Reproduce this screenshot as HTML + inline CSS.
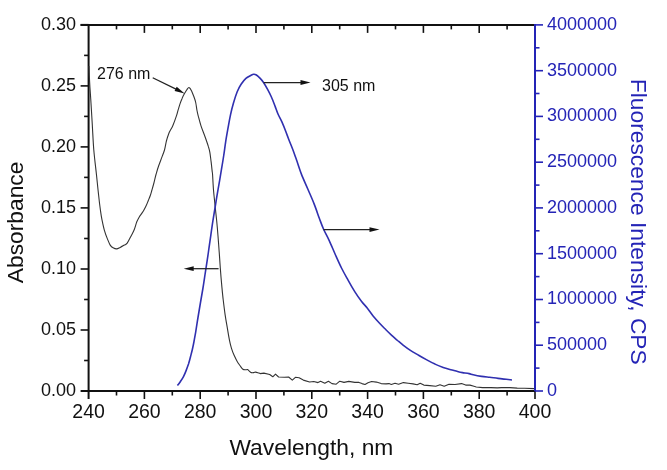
<!DOCTYPE html><html><head><meta charset="utf-8"><title>Absorbance and Fluorescence</title><style>html,body{margin:0;padding:0;background:#fff;}svg{display:block;will-change:transform;}text{font-family:'Liberation Sans', Arial, Helvetica, sans-serif;}</style></head><body>
<svg width="667" height="470" viewBox="0 0 667 470">
<rect width="667" height="470" fill="#fff"/>
<line x1="87.6" y1="391.0" x2="535.0" y2="391.0" stroke="#111" stroke-width="2.0"/>
<line x1="80.6" y1="24.9" x2="535.0" y2="24.9" stroke="#111" stroke-width="2.0"/>
<line x1="88.6" y1="23.9" x2="88.6" y2="399.0" stroke="#111" stroke-width="2.0"/>
<line x1="535.0" y1="23.9" x2="535.0" y2="392.0" stroke="#2424b6" stroke-width="2.0"/>
<line x1="116.5" y1="391.0" x2="116.5" y2="395.5" stroke="#111" stroke-width="1.6"/>
<line x1="116.5" y1="24.9" x2="116.5" y2="29.4" stroke="#111" stroke-width="1.6"/>
<line x1="144.4" y1="391.0" x2="144.4" y2="399.0" stroke="#111" stroke-width="1.6"/>
<line x1="144.4" y1="24.9" x2="144.4" y2="32.9" stroke="#111" stroke-width="1.6"/>
<line x1="172.3" y1="391.0" x2="172.3" y2="395.5" stroke="#111" stroke-width="1.6"/>
<line x1="172.3" y1="24.9" x2="172.3" y2="29.4" stroke="#111" stroke-width="1.6"/>
<line x1="200.2" y1="391.0" x2="200.2" y2="399.0" stroke="#111" stroke-width="1.6"/>
<line x1="200.2" y1="24.9" x2="200.2" y2="32.9" stroke="#111" stroke-width="1.6"/>
<line x1="228.1" y1="391.0" x2="228.1" y2="395.5" stroke="#111" stroke-width="1.6"/>
<line x1="228.1" y1="24.9" x2="228.1" y2="29.4" stroke="#111" stroke-width="1.6"/>
<line x1="256.0" y1="391.0" x2="256.0" y2="399.0" stroke="#111" stroke-width="1.6"/>
<line x1="256.0" y1="24.9" x2="256.0" y2="32.9" stroke="#111" stroke-width="1.6"/>
<line x1="283.9" y1="391.0" x2="283.9" y2="395.5" stroke="#111" stroke-width="1.6"/>
<line x1="283.9" y1="24.9" x2="283.9" y2="29.4" stroke="#111" stroke-width="1.6"/>
<line x1="311.8" y1="391.0" x2="311.8" y2="399.0" stroke="#111" stroke-width="1.6"/>
<line x1="311.8" y1="24.9" x2="311.8" y2="32.9" stroke="#111" stroke-width="1.6"/>
<line x1="339.7" y1="391.0" x2="339.7" y2="395.5" stroke="#111" stroke-width="1.6"/>
<line x1="339.7" y1="24.9" x2="339.7" y2="29.4" stroke="#111" stroke-width="1.6"/>
<line x1="367.6" y1="391.0" x2="367.6" y2="399.0" stroke="#111" stroke-width="1.6"/>
<line x1="367.6" y1="24.9" x2="367.6" y2="32.9" stroke="#111" stroke-width="1.6"/>
<line x1="395.5" y1="391.0" x2="395.5" y2="395.5" stroke="#111" stroke-width="1.6"/>
<line x1="395.5" y1="24.9" x2="395.5" y2="29.4" stroke="#111" stroke-width="1.6"/>
<line x1="423.4" y1="391.0" x2="423.4" y2="399.0" stroke="#111" stroke-width="1.6"/>
<line x1="423.4" y1="24.9" x2="423.4" y2="32.9" stroke="#111" stroke-width="1.6"/>
<line x1="451.3" y1="391.0" x2="451.3" y2="395.5" stroke="#111" stroke-width="1.6"/>
<line x1="451.3" y1="24.9" x2="451.3" y2="29.4" stroke="#111" stroke-width="1.6"/>
<line x1="479.2" y1="391.0" x2="479.2" y2="399.0" stroke="#111" stroke-width="1.6"/>
<line x1="479.2" y1="24.9" x2="479.2" y2="32.9" stroke="#111" stroke-width="1.6"/>
<line x1="507.1" y1="391.0" x2="507.1" y2="395.5" stroke="#111" stroke-width="1.6"/>
<line x1="507.1" y1="24.9" x2="507.1" y2="29.4" stroke="#111" stroke-width="1.6"/>
<line x1="535.0" y1="391.0" x2="535.0" y2="399.0" stroke="#111" stroke-width="1.6"/>
<line x1="80.6" y1="391.0" x2="88.6" y2="391.0" stroke="#111" stroke-width="2.0"/>
<line x1="84.1" y1="360.5" x2="88.6" y2="360.5" stroke="#111" stroke-width="1.6"/>
<line x1="80.6" y1="330.0" x2="88.6" y2="330.0" stroke="#111" stroke-width="1.6"/>
<line x1="84.1" y1="299.5" x2="88.6" y2="299.5" stroke="#111" stroke-width="1.6"/>
<line x1="80.6" y1="269.0" x2="88.6" y2="269.0" stroke="#111" stroke-width="1.6"/>
<line x1="84.1" y1="238.5" x2="88.6" y2="238.5" stroke="#111" stroke-width="1.6"/>
<line x1="80.6" y1="207.9" x2="88.6" y2="207.9" stroke="#111" stroke-width="1.6"/>
<line x1="84.1" y1="177.4" x2="88.6" y2="177.4" stroke="#111" stroke-width="1.6"/>
<line x1="80.6" y1="146.9" x2="88.6" y2="146.9" stroke="#111" stroke-width="1.6"/>
<line x1="84.1" y1="116.4" x2="88.6" y2="116.4" stroke="#111" stroke-width="1.6"/>
<line x1="80.6" y1="85.9" x2="88.6" y2="85.9" stroke="#111" stroke-width="1.6"/>
<line x1="84.1" y1="55.4" x2="88.6" y2="55.4" stroke="#111" stroke-width="1.6"/>
<line x1="80.6" y1="24.9" x2="88.6" y2="24.9" stroke="#111" stroke-width="2.0"/>
<line x1="535.0" y1="391.0" x2="543.0" y2="391.0" stroke="#2424b6" stroke-width="1.6"/>
<line x1="535.0" y1="368.1" x2="539.5" y2="368.1" stroke="#2424b6" stroke-width="1.6"/>
<line x1="535.0" y1="345.2" x2="543.0" y2="345.2" stroke="#2424b6" stroke-width="1.6"/>
<line x1="535.0" y1="322.4" x2="539.5" y2="322.4" stroke="#2424b6" stroke-width="1.6"/>
<line x1="535.0" y1="299.5" x2="543.0" y2="299.5" stroke="#2424b6" stroke-width="1.6"/>
<line x1="535.0" y1="276.6" x2="539.5" y2="276.6" stroke="#2424b6" stroke-width="1.6"/>
<line x1="535.0" y1="253.7" x2="543.0" y2="253.7" stroke="#2424b6" stroke-width="1.6"/>
<line x1="535.0" y1="230.8" x2="539.5" y2="230.8" stroke="#2424b6" stroke-width="1.6"/>
<line x1="535.0" y1="207.9" x2="543.0" y2="207.9" stroke="#2424b6" stroke-width="1.6"/>
<line x1="535.0" y1="185.1" x2="539.5" y2="185.1" stroke="#2424b6" stroke-width="1.6"/>
<line x1="535.0" y1="162.2" x2="543.0" y2="162.2" stroke="#2424b6" stroke-width="1.6"/>
<line x1="535.0" y1="139.3" x2="539.5" y2="139.3" stroke="#2424b6" stroke-width="1.6"/>
<line x1="535.0" y1="116.4" x2="543.0" y2="116.4" stroke="#2424b6" stroke-width="1.6"/>
<line x1="535.0" y1="93.5" x2="539.5" y2="93.5" stroke="#2424b6" stroke-width="1.6"/>
<line x1="535.0" y1="70.7" x2="543.0" y2="70.7" stroke="#2424b6" stroke-width="1.6"/>
<line x1="535.0" y1="47.8" x2="539.5" y2="47.8" stroke="#2424b6" stroke-width="1.6"/>
<line x1="535.0" y1="24.9" x2="543.0" y2="24.9" stroke="#2424b6" stroke-width="1.6"/>
<path d="M88.9,66.0 C89.0,67.7 89.1,72.5 89.3,76.0 C89.5,79.5 89.7,83.0 89.9,87.0 C90.2,91.0 90.4,93.7 90.8,100.0 C91.2,106.3 91.8,116.7 92.3,125.0 C92.8,133.3 93.1,141.7 93.8,150.0 C94.5,158.3 95.7,167.5 96.5,175.0 C97.3,182.5 97.9,189.2 98.6,195.0 C99.2,200.8 99.8,205.8 100.4,210.0 C101.0,214.2 101.3,216.5 102.0,219.9 C102.7,223.3 103.5,227.3 104.4,230.4 C105.3,233.5 106.3,236.2 107.3,238.6 C108.3,241.0 109.2,243.6 110.2,245.1 C111.2,246.6 112.0,247.2 113.1,247.8 C114.2,248.4 115.5,249.0 116.7,248.9 C117.9,248.8 118.9,248.0 120.2,247.4 C121.5,246.8 123.1,245.8 124.3,245.1 C125.5,244.4 126.1,244.6 127.2,243.1 C128.3,241.6 129.9,238.2 131.1,235.9 C132.3,233.6 133.4,231.8 134.3,229.5 C135.2,227.2 136.0,223.9 136.8,221.8 C137.7,219.7 138.6,218.1 139.4,216.7 C140.2,215.3 140.9,214.7 141.6,213.6 C142.3,212.5 143.1,211.6 143.8,210.3 C144.5,209.0 145.2,207.6 146.0,206.0 C146.8,204.4 147.6,202.2 148.3,200.5 C149.0,198.8 149.7,197.2 150.3,195.5 C150.9,193.8 151.2,192.6 151.8,190.5 C152.4,188.4 153.2,185.7 153.9,183.0 C154.6,180.3 155.2,177.3 156.0,174.5 C156.8,171.7 157.6,168.8 158.6,166.0 C159.6,163.2 160.8,160.1 161.8,157.4 C162.8,154.7 163.7,152.7 164.5,150.0 C165.3,147.3 165.7,143.8 166.4,141.0 C167.1,138.2 168.2,135.2 168.9,133.3 C169.6,131.4 170.2,130.8 170.8,129.5 C171.5,128.2 171.8,128.1 172.8,125.7 C173.8,123.4 175.7,118.1 176.6,115.4 C177.5,112.7 177.7,111.2 178.3,109.3 C178.9,107.4 179.4,105.7 180.0,103.9 C180.6,102.1 181.3,100.1 182.1,98.4 C182.8,96.7 183.7,95.0 184.5,93.6 C185.3,92.2 186.1,90.8 186.8,89.8 C187.6,88.8 188.2,87.3 189.0,87.5 C189.8,87.7 190.8,89.3 191.6,90.9 C192.4,92.5 193.3,95.1 194.0,97.0 C194.7,98.9 195.2,100.2 195.7,102.5 C196.2,104.8 196.6,108.3 197.0,110.5 C197.4,112.7 197.5,113.2 198.2,115.8 C198.9,118.4 199.8,122.2 201.0,125.9 C202.2,129.6 204.2,134.3 205.4,137.8 C206.6,141.3 207.7,144.2 208.4,146.7 C209.2,149.2 209.5,150.2 209.9,152.7 C210.3,155.2 210.7,158.6 211.1,161.6 C211.5,164.6 211.8,168.4 212.1,170.6 C212.3,172.8 212.4,171.8 212.6,175.0 C212.8,178.2 213.1,185.0 213.5,190.0 C213.9,195.0 214.5,199.8 215.0,205.0 C215.5,210.2 216.2,215.8 216.7,221.0 C217.2,226.2 217.6,230.8 218.0,236.0 C218.4,241.2 218.8,246.7 219.2,252.0 C219.6,257.3 219.9,262.5 220.3,268.0 C220.7,273.5 221.2,279.6 221.7,284.9 C222.2,290.2 222.6,294.8 223.2,299.8 C223.8,304.8 224.4,309.7 225.1,314.7 C225.8,319.7 226.9,325.3 227.6,329.6 C228.3,333.9 228.9,337.3 229.5,340.4 C230.1,343.5 230.7,345.7 231.4,348.1 C232.2,350.6 233.0,352.9 234.0,355.1 C235.0,357.3 236.1,359.7 237.2,361.5 C238.2,363.3 239.4,364.7 240.3,366.0 C241.2,367.3 242.0,368.6 242.9,369.2 C243.8,369.8 244.8,369.7 245.5,369.8 C246.2,369.9 246.8,369.4 247.4,369.6 C248.0,369.8 248.7,370.6 249.3,371.1 C249.9,371.6 250.4,372.4 251.2,372.6 C251.9,372.9 253.1,372.7 253.8,372.6 C254.6,372.5 254.8,372.0 255.7,372.1 C256.5,372.2 258.4,372.9 258.9,373.0 L258.9,373.0 L260.2,373.6 L263.9,373.1 L269.7,374.5 L272.8,376.8 L275.5,374.2 L278.6,377.0 L284.4,377.3 L288.6,377.0 L292.3,380.1 L295.4,377.3 L299.1,377.8 L303.3,380.1 L309.6,382.0 L313.8,381.5 L318.0,382.6 L320.6,381.3 L324.8,383.2 L328.4,381.2 L332.0,383.6 L336.2,384.2 L339.8,381.2 L344.0,382.4 L348.8,381.4 L354.8,382.4 L359.0,382.4 L362.0,383.6 L365.0,384.5 L368.0,382.7 L371.6,381.5 L376.4,382.1 L381.2,383.6 L386.0,383.9 L389.0,383.6 L391.3,384.4 L395.0,383.2 L398.6,384.2 L403.4,382.6 L408.2,383.2 L413.0,383.9 L417.2,384.8 L420.2,383.2 L423.8,385.1 L429.8,385.6 L435.8,386.3 L440.0,384.8 L444.2,386.3 L449.0,384.2 L455.0,384.5 L461.5,383.6 L465.7,385.1 L470.0,385.1 L473.1,386.0 L476.3,387.0 L482.6,387.6 L491.0,387.6 L497.3,387.9 L501.5,387.6 L509.9,387.6 L517.2,388.1 L524.6,388.3 L534.0,388.6" fill="none" stroke="#333" stroke-width="1.1" stroke-linejoin="round"/>
<path d="M177.4,385.6 C177.9,385.0 179.3,383.2 180.3,381.7 C181.3,380.2 182.6,378.4 183.5,376.6 C184.4,374.8 185.2,373.0 186.0,370.9 C186.8,368.8 187.8,366.1 188.6,363.8 C189.3,361.5 189.9,359.2 190.5,356.8 C191.1,354.4 191.8,351.8 192.4,349.2 C193.0,346.6 193.5,344.3 194.0,341.5 C194.5,338.7 194.9,336.5 195.6,332.6 C196.2,328.7 197.1,322.9 197.9,318.0 C198.7,313.1 199.6,307.9 200.4,303.0 C201.2,298.1 202.1,293.3 202.9,288.5 C203.7,283.7 204.4,278.7 205.1,274.0 C205.8,269.3 206.6,264.4 207.2,260.4 C207.8,256.4 208.2,253.7 208.7,250.0 C209.2,246.3 209.7,242.9 210.4,238.1 C211.1,233.2 212.0,226.7 212.9,220.9 C213.8,215.2 214.8,209.3 215.7,203.6 C216.6,197.8 217.6,192.1 218.6,186.4 C219.6,180.7 220.6,174.4 221.5,169.2 C222.4,164.0 223.1,159.6 223.8,155.0 C224.5,150.4 225.0,146.1 225.7,141.6 C226.4,137.1 227.2,132.7 228.0,128.2 C228.8,123.7 229.6,118.9 230.5,114.8 C231.4,110.7 232.3,107.1 233.4,103.3 C234.5,99.5 235.9,95.0 237.2,91.8 C238.5,88.6 239.6,86.4 241.1,84.2 C242.6,82.0 244.3,79.9 245.9,78.4 C247.5,77.0 249.4,76.2 250.7,75.5 C252.0,74.8 252.6,74.3 253.5,74.2 C254.4,74.1 255.3,74.3 256.4,75.0 C257.5,75.7 259.0,77.1 260.2,78.4 C261.4,79.7 262.5,80.9 263.7,82.7 C264.9,84.5 266.3,87.0 267.6,89.4 C268.9,91.8 270.1,94.1 271.4,97.0 C272.7,99.9 274.1,103.7 275.2,106.6 C276.3,109.5 277.0,111.8 278.1,114.3 C279.2,116.8 280.6,119.0 281.9,121.9 C283.2,124.8 284.7,128.6 285.8,131.5 C286.9,134.4 287.6,136.3 288.7,139.2 C289.8,142.1 291.2,145.5 292.5,148.8 C293.8,152.2 294.8,155.1 296.3,159.3 C297.8,163.5 299.5,169.2 301.4,174.1 C303.3,179.0 305.7,184.0 307.8,189.0 C309.9,194.0 312.2,198.9 314.1,203.9 C316.1,208.9 317.9,214.5 319.5,218.8 C321.1,223.1 322.1,225.9 323.7,229.5 C325.3,233.1 327.0,235.8 329.0,240.1 C331.0,244.3 333.4,250.3 335.5,255.0 C337.6,259.6 339.4,263.8 341.5,268.0 C343.6,272.2 346.0,276.4 348.2,280.4 C350.4,284.4 352.7,288.4 354.9,291.9 C357.1,295.4 359.5,298.8 361.6,301.5 C363.7,304.2 365.5,305.8 367.4,308.2 C369.3,310.6 371.0,313.3 373.1,315.9 C375.2,318.4 377.7,321.2 379.8,323.5 C381.9,325.8 383.9,327.7 385.9,329.7 C387.9,331.7 389.8,333.5 391.7,335.3 C393.6,337.1 395.7,338.8 397.6,340.5 C399.6,342.2 401.3,343.7 403.4,345.3 C405.5,346.9 407.9,348.7 410.4,350.3 C412.9,351.9 415.9,353.6 418.6,355.2 C421.3,356.8 424.1,358.4 426.8,359.9 C429.5,361.4 432.3,362.9 435.0,364.1 C437.7,365.4 440.7,366.5 443.2,367.4 C445.7,368.3 448.0,368.9 449.8,369.4 C451.6,369.9 452.6,370.1 454.0,370.5 C455.4,370.9 456.9,371.3 458.3,371.7 C459.7,372.1 460.7,372.3 462.5,372.6 C464.3,372.9 467.3,373.2 469.1,373.6 C470.9,374.0 471.1,374.3 473.2,374.8 C475.3,375.3 478.8,376.0 481.5,376.4 C484.2,376.8 486.9,377.0 489.7,377.3 C492.4,377.6 495.2,378.1 498.0,378.4 C500.8,378.7 503.9,379.0 506.2,379.3 C508.5,379.6 511.0,379.9 512.0,380.0" fill="none" stroke="#3030b0" stroke-width="1.6" stroke-linejoin="round"/>
<line x1="152.7" y1="77.7" x2="176.5" y2="89.4" stroke="#222" stroke-width="1.25"/><polygon points="184.6,93.4 174.6,91.1 176.7,86.8" fill="#111"/>
<line x1="263.6" y1="82.5" x2="301.5" y2="82.5" stroke="#222" stroke-width="1.25"/><polygon points="310.5,82.5 300.5,84.9 300.5,80.1" fill="#111"/>
<line x1="323.5" y1="229.6" x2="370.5" y2="229.6" stroke="#222" stroke-width="1.25"/><polygon points="379.5,229.6 369.5,232.0 369.5,227.2" fill="#111"/>
<line x1="218.6" y1="268.7" x2="192.7" y2="268.7" stroke="#222" stroke-width="1.25"/><polygon points="183.7,268.7 193.7,266.3 193.7,271.1" fill="#111"/>
<text x="76.0" y="395.8" font-size="18" text-anchor="end" fill="#111">0.00</text>
<text x="76.0" y="334.8" font-size="18" text-anchor="end" fill="#111">0.05</text>
<text x="76.0" y="273.8" font-size="18" text-anchor="end" fill="#111">0.10</text>
<text x="76.0" y="212.7" font-size="18" text-anchor="end" fill="#111">0.15</text>
<text x="76.0" y="151.7" font-size="18" text-anchor="end" fill="#111">0.20</text>
<text x="76.0" y="90.7" font-size="18" text-anchor="end" fill="#111">0.25</text>
<text x="76.0" y="29.7" font-size="18" text-anchor="end" fill="#111">0.30</text>
<text x="88.6" y="418.3" font-size="19.5" text-anchor="middle" fill="#111">240</text>
<text x="144.4" y="418.3" font-size="19.5" text-anchor="middle" fill="#111">260</text>
<text x="200.2" y="418.3" font-size="19.5" text-anchor="middle" fill="#111">280</text>
<text x="256.0" y="418.3" font-size="19.5" text-anchor="middle" fill="#111">300</text>
<text x="311.8" y="418.3" font-size="19.5" text-anchor="middle" fill="#111">320</text>
<text x="367.6" y="418.3" font-size="19.5" text-anchor="middle" fill="#111">340</text>
<text x="423.4" y="418.3" font-size="19.5" text-anchor="middle" fill="#111">360</text>
<text x="479.2" y="418.3" font-size="19.5" text-anchor="middle" fill="#111">380</text>
<text x="535.0" y="418.3" font-size="19.5" text-anchor="middle" fill="#111">400</text>
<text x="546.9" y="395.9" font-size="18" fill="#2424b6">0</text>
<text x="546.9" y="350.1" font-size="18" fill="#2424b6">500000</text>
<text x="546.9" y="304.4" font-size="18" fill="#2424b6">1000000</text>
<text x="546.9" y="258.6" font-size="18" fill="#2424b6">1500000</text>
<text x="546.9" y="212.8" font-size="18" fill="#2424b6">2000000</text>
<text x="546.9" y="167.1" font-size="18" fill="#2424b6">2500000</text>
<text x="546.9" y="121.3" font-size="18" fill="#2424b6">3000000</text>
<text x="546.9" y="75.6" font-size="18" fill="#2424b6">3500000</text>
<text x="546.9" y="29.8" font-size="18" fill="#2424b6">4000000</text>
<text x="311.4" y="455.3" font-size="22.8" text-anchor="middle" fill="#111">Wavelength, nm</text>
<text transform="translate(23.2,222.4) rotate(-90)" font-size="22.8" text-anchor="middle" fill="#111">Absorbance</text>
<text transform="translate(631.2,221.8) rotate(90)" font-size="22.8" text-anchor="middle" fill="#2424b6">Fluorescence Intensity, CPS</text>
<text x="97" y="78.6" font-size="16" fill="#111">276 nm</text>
<text x="322.0" y="90.6" font-size="16" fill="#111">305 nm</text>
</svg></body></html>
